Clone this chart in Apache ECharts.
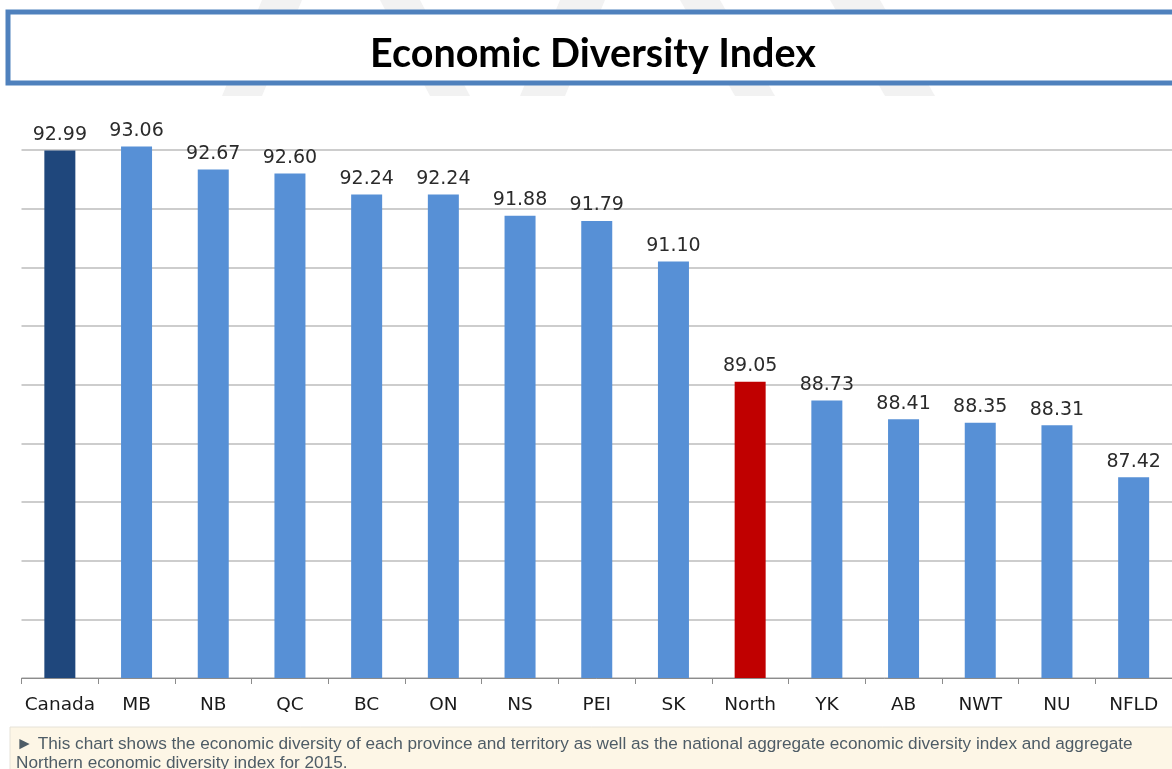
<!DOCTYPE html>
<html>
<head>
<meta charset="utf-8">
<script src="https://cdn.jsdelivr.net/npm/echarts@6/dist/echarts.min.js"></script>
<style>
html,body{margin:0;padding:0;background:#fff;}
#chart{width:1172px;height:769px;}
</style>
</head>
<body>
<div id="chart"></div>
<script>
const categories = ['Canada','MB','NB','QC','BC','ON','NS','PEI','SK','North','YK','AB','NWT','NU','NFLD'];
const values = [92.99, 93.06, 92.67, 92.60, 92.24, 92.24, 91.88, 91.79, 91.10, 89.05, 88.73, 88.41, 88.35, 88.31, 87.42];
const highlight = {Canada: '#1f477c', North: '#c00000'};
const titleText = 'Economic Diversity Index';
const captionLines = [
  '\u25BA This chart shows the economic diversity of each province and territory as well as the national aggregate economic diversity index and aggregate',
  'Northern economic diversity index for 2015.'
];

const chart = echarts.init(document.getElementById('chart'));

const barData = values.map((v, i) => ({
  value: v,
  itemStyle: { color: highlight[categories[i]] || '#5790d6' }
}));

// faint watermark stripes
const stripes = [
  [[262,0],[302,0],[262,96],[222,96]],
  [[560,0],[605,0],[565,96],[520,96]],
  [[680,0],[720,0],[775,96],[735,96]],
  [[830,0],[880,0],[935,96],[885,96]],
  [[380,0],[420,0],[470,96],[430,96]]
];

const option = {
  backgroundColor: '#ffffff',
  animation: false,
  graphic: [
    ...stripes.map(p => ({
      type: 'polygon', z: -10, silent: true,
      shape: { points: p },
      style: { fill: '#f2f2f2' }
    })),
    {
      type: 'rect', z: 5,
      shape: { x: 8, y: 12, width: 1180, height: 71 },
      style: { fill: '#ffffff', stroke: '#4f81bd', lineWidth: 5 }
    },
    {
      type: 'text', z: 6,
      x: 593, y: 54,
      style: {
        text: titleText,
        font: 'bold 39.5px Lato, "Open Sans", sans-serif',
        fill: '#000000',
        textAlign: 'center',
        textVerticalAlign: 'middle'
      }
    },
    {
      type: 'rect', z: 5,
      shape: { x: 10, y: 727, width: 1175, height: 50 },
      style: { fill: '#fdf6e6', stroke: '#e6e2d8', lineWidth: 1 }
    },
    {
      type: 'text', z: 6,
      x: 16, y: 735,
      style: {
        text: captionLines.join('\n'),
        font: '17.2px "Liberation Sans", Arial, sans-serif',
        fill: '#4e5c66',
        lineHeight: 19,
        textAlign: 'left',
        textVerticalAlign: 'top'
      }
    }
  ],
  grid: { left: 21.5, top: 120.7, width: 1154, bottom: 91, containLabel: false },
  xAxis: {
    type: 'category',
    data: categories,
    boundaryGap: true,
    axisLine: { show: true, lineStyle: { color: '#8c8c8c', width: 1 } },
    axisTick: { show: true, length: 6, lineStyle: { color: '#8c8c8c' } },
    axisLabel: {
      color: '#1a1a1a',
      fontSize: 18.5,
      fontFamily: '"DejaVu Sans", Verdana, sans-serif',
      margin: 18,
      interval: 0
    }
  },
  yAxis: {
    type: 'value',
    min: 84,
    max: 93.5,
    interval: 1,
    axisLine: { show: false },
    axisTick: { show: false },
    axisLabel: { show: false },
    splitLine: { show: true, showMaxLine: false, lineStyle: { color: '#bdbdbd', width: 1.5 } }
  },
  series: [{
    type: 'bar',
    data: barData,
    barWidth: 31,
    label: {
      show: true,
      position: 'top',
      distance: 6,
      color: '#2b2b2b',
      fontSize: 19,
      fontFamily: '"DejaVu Sans", Verdana, sans-serif',
      formatter: p => p.value.toFixed(2)
    }
  }]
};
chart.setOption(option);
</script>
</body>
</html>
